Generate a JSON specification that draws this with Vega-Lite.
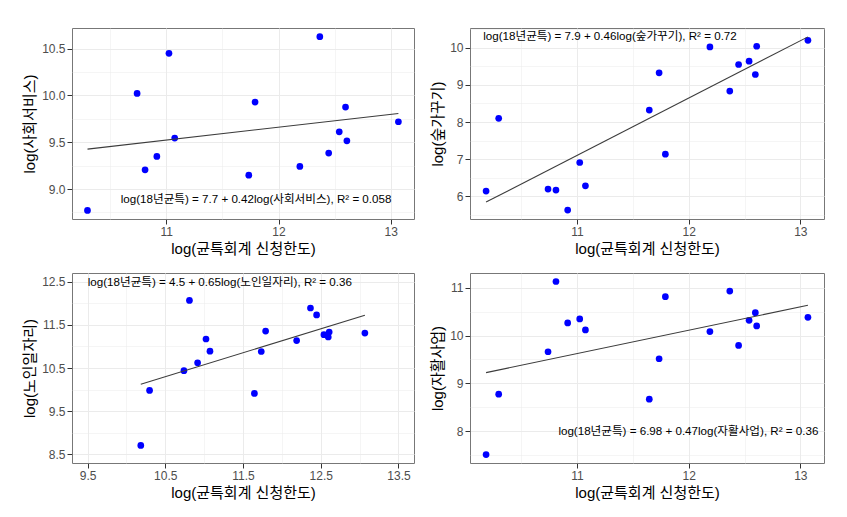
{
  "$schema": "https://vega.github.io/schema/vega-lite/v6.json",
  "background": "white",
  "padding": {"left": 22, "top": 27, "right": 0, "bottom": 0},
  "config": {
    "font": "Liberation Sans, Noto Sans CJK KR",
    "view": {"stroke": "#777777", "strokeWidth": 1},
    "axis": {
      "domain": false,
      "tickColor": "#333333",
      "tickSize": 5,
      "labelColor": "#4D4D4D",
      "labelFontSize": 12,
      "labelPadding": 2,
      "labelOverlap": false,
      "labelFlush": false,
      "titleFontSize": 15,
      "titleFontWeight": "normal",
      "titleColor": "#000000",
      "gridColor": "#EBEBEB"
    },
    "axisX": {"titlePadding": 4},
    "axisY": {"titlePadding": 4}
  },
  "datasets": {
    "pts": [
      {"x": 10.185, "s": null, "f": 6.135, "n": 8.706, "j": 7.507},
      {"x": 10.298, "s": 8.771, "f": 8.099, "n": 9.981, "j": 8.771},
      {"x": 10.740, "s": 10.02, "f": 6.188, "n": 10.439, "j": 9.660},
      {"x": 10.811, "s": 9.205, "f": 6.161, "n": 12.065, "j": 11.132},
      {"x": 10.916, "s": 9.348, "f": 5.623, "n": 10.622, "j": 10.264},
      {"x": 11.024, "s": 10.449, "f": 6.906, "n": 11.172, "j": 10.347},
      {"x": 11.075, "s": 9.544, "f": 6.278, "n": 10.889, "j": 10.118},
      {"x": 11.647, "s": null, "f": 8.323, "n": 9.912, "j": 8.667},
      {"x": 11.735, "s": 9.148, "f": 9.327, "n": 10.882, "j": 9.514},
      {"x": 11.791, "s": 9.928, "f": 7.130, "n": 11.355, "j": 10.813},
      {"x": 12.190, "s": 9.241, "f": 10.027, "n": 11.134, "j": 10.083},
      {"x": 12.368, "s": 10.626, "f": 8.834, "n": 11.889, "j": 10.931},
      {"x": 12.447, "s": 9.384, "f": 9.552, "n": 11.729, "j": 9.792},
      {"x": 12.541, "s": 9.611, "f": 9.641, "n": 11.271, "j": 10.319},
      {"x": 12.597, "s": 9.875, "f": 9.283, "n": 11.218, "j": 10.479},
      {"x": 12.609, "s": 9.515, "f": 10.045, "n": 11.332, "j": 10.201},
      {"x": 13.068, "s": 9.718, "f": 10.206, "n": 11.309, "j": 10.382}
    ]
  },
  "concat": [
    {
      "width": 342, "height": 191,
      "data": {"name": "pts"},
      "encoding": {
        "x": {"field": "x", "type": "quantitative", "title": "log(균특회계 신청한도)",
          "scale": {"domain": [10.16, 13.207], "nice": false, "zero": false},
          "axis": {"values": [10.5, 11, 11.5, 12, 12.5, 13], "format": ".0f",
            "labelExpr": "datum.value % 1 == 0 ? datum.label : ''",
            "labelFontSize": {"condition": {"test": "datum.value % 1 == 0", "value": 12}, "value": 0},
            "tickOpacity": {"condition": {"test": "datum.value % 1 == 0", "value": 1}, "value": 0},
            "gridWidth": {"condition": {"test": "datum.value % 1 == 0", "value": 1}, "value": 0.5}}},
        "y": {"field": "s", "type": "quantitative", "title": "log(사회서비스)",
          "scale": {"domain": [8.68, 10.719], "nice": false, "zero": false},
          "axis": {"values": [8.75, 9, 9.25, 9.5, 9.75, 10, 10.25, 10.5], "format": ".1f",
            "labelExpr": "datum.value % 0.5 == 0 ? datum.label : ''",
            "labelFontSize": {"condition": {"test": "datum.value % 0.5 == 0", "value": 12}, "value": 0},
            "tickOpacity": {"condition": {"test": "datum.value % 0.5 == 0", "value": 1}, "value": 0},
            "gridWidth": {"condition": {"test": "datum.value % 0.5 == 0", "value": 1}, "value": 0.5}}}
      },
      "layer": [
        {"transform": [{"filter": "isValid(datum.s)"}],
         "mark": {"type": "circle", "size": 45, "color": "#0000FF", "opacity": 1}},
        {"transform": [{"filter": "isValid(datum.s)"}, {"regression": "s", "on": "x"}],
         "mark": {"type": "line", "color": "#3C3C3C", "strokeWidth": 1.1}},
        {"data": {"values": [{"x": 11.80, "s": 8.885, "label": "log(18년균특) = 7.7 + 0.42log(사회서비스), R² = 0.058"}]},
         "mark": {"type": "text", "fontSize": 11.6, "color": "#000000", "align": "center", "baseline": "middle"},
         "encoding": {"text": {"field": "label"}}}
      ]
    },
    {
      "width": 354, "height": 191,
      "data": {"name": "pts"},
      "encoding": {
        "x": {"field": "x", "type": "quantitative", "title": "log(균특회계 신청한도)",
          "scale": {"domain": [10.041, 13.212], "nice": false, "zero": false},
          "axis": {"values": [10.5, 11, 11.5, 12, 12.5, 13], "format": ".0f",
            "labelExpr": "datum.value % 1 == 0 ? datum.label : ''",
            "labelFontSize": {"condition": {"test": "datum.value % 1 == 0", "value": 12}, "value": 0},
            "tickOpacity": {"condition": {"test": "datum.value % 1 == 0", "value": 1}, "value": 0},
            "gridWidth": {"condition": {"test": "datum.value % 1 == 0", "value": 1}, "value": 0.5}}},
        "y": {"field": "f", "type": "quantitative", "title": "log(숲가꾸기)",
          "scale": {"domain": [5.381, 10.538], "nice": false, "zero": false},
          "axis": {"values": [5.5, 6, 6.5, 7, 7.5, 8, 8.5, 9, 9.5, 10, 10.5], "format": ".0f",
            "labelExpr": "datum.value % 1 == 0 ? datum.label : ''",
            "labelFontSize": {"condition": {"test": "datum.value % 1 == 0", "value": 12}, "value": 0},
            "tickOpacity": {"condition": {"test": "datum.value % 1 == 0", "value": 1}, "value": 0},
            "gridWidth": {"condition": {"test": "datum.value % 1 == 0", "value": 1}, "value": 0.5}}}
      },
      "layer": [
        {"mark": {"type": "circle", "size": 45, "color": "#0000FF", "opacity": 1}},
        {"transform": [{"regression": "f", "on": "x"}],
         "mark": {"type": "line", "color": "#3C3C3C", "strokeWidth": 1.1}},
        {"data": {"values": [{"x": 11.295, "f": 10.296, "label": "log(18년균특) = 7.9 + 0.46log(숲가꾸기), R² = 0.72"}]},
         "mark": {"type": "text", "fontSize": 11.6, "color": "#000000", "align": "center", "baseline": "middle"},
         "encoding": {"text": {"field": "label"}}}
      ]
    },
    {
      "width": 342, "height": 190,
      "data": {"name": "pts"},
      "encoding": {
        "x": {"field": "x", "type": "quantitative", "title": "log(균특회계 신청한도)",
          "scale": {"domain": [9.3, 13.7], "nice": false, "zero": false},
          "axis": {"values": [9.5, 10, 10.5, 11, 11.5, 12, 12.5, 13, 13.5], "format": ".1f",
            "labelExpr": "datum.value % 1 == 0.5 ? datum.label : ''",
            "labelFontSize": {"condition": {"test": "datum.value % 1 == 0.5", "value": 12}, "value": 0},
            "tickOpacity": {"condition": {"test": "datum.value % 1 == 0.5", "value": 1}, "value": 0},
            "gridWidth": {"condition": {"test": "datum.value % 1 == 0.5", "value": 1}, "value": 0.5}}},
        "y": {"field": "n", "type": "quantitative", "title": "log(노인일자리)",
          "scale": {"domain": [8.3, 12.7], "nice": false, "zero": false},
          "axis": {"values": [8.5, 9, 9.5, 10, 10.5, 11, 11.5, 12, 12.5], "format": ".1f",
            "labelExpr": "datum.value % 1 == 0.5 ? datum.label : ''",
            "labelFontSize": {"condition": {"test": "datum.value % 1 == 0.5", "value": 12}, "value": 0},
            "tickOpacity": {"condition": {"test": "datum.value % 1 == 0.5", "value": 1}, "value": 0},
            "gridWidth": {"condition": {"test": "datum.value % 1 == 0.5", "value": 1}, "value": 0.5}}}
      },
      "layer": [
        {"mark": {"type": "circle", "size": 45, "color": "#0000FF", "opacity": 1}},
        {"transform": [{"regression": "n", "on": "x"}],
         "mark": {"type": "line", "color": "#3C3C3C", "strokeWidth": 1.1}},
        {"data": {"values": [{"x": 11.202, "n": 12.47, "label": "log(18년균특) = 4.5 + 0.65log(노인일자리), R² = 0.36"}]},
         "mark": {"type": "text", "fontSize": 11.6, "color": "#000000", "align": "center", "baseline": "middle"},
         "encoding": {"text": {"field": "label"}}}
      ]
    },
    {
      "width": 354, "height": 190,
      "data": {"name": "pts"},
      "encoding": {
        "x": {"field": "x", "type": "quantitative", "title": "log(균특회계 신청한도)",
          "scale": {"domain": [10.041, 13.212], "nice": false, "zero": false},
          "axis": {"values": [10.5, 11, 11.5, 12, 12.5, 13], "format": ".0f",
            "labelExpr": "datum.value % 1 == 0 ? datum.label : ''",
            "labelFontSize": {"condition": {"test": "datum.value % 1 == 0", "value": 12}, "value": 0},
            "tickOpacity": {"condition": {"test": "datum.value % 1 == 0", "value": 1}, "value": 0},
            "gridWidth": {"condition": {"test": "datum.value % 1 == 0", "value": 1}, "value": 0.5}}},
        "y": {"field": "j", "type": "quantitative", "title": "log(자활사업)",
          "scale": {"domain": [7.33, 11.31], "nice": false, "zero": false},
          "axis": {"values": [7.5, 8, 8.5, 9, 9.5, 10, 10.5, 11], "format": ".0f",
            "labelExpr": "datum.value % 1 == 0 ? datum.label : ''",
            "labelFontSize": {"condition": {"test": "datum.value % 1 == 0", "value": 12}, "value": 0},
            "tickOpacity": {"condition": {"test": "datum.value % 1 == 0", "value": 1}, "value": 0},
            "gridWidth": {"condition": {"test": "datum.value % 1 == 0", "value": 1}, "value": 0.5}}}
      },
      "layer": [
        {"mark": {"type": "circle", "size": 45, "color": "#0000FF", "opacity": 1}},
        {"transform": [{"regression": "j", "on": "x"}],
         "mark": {"type": "line", "color": "#3C3C3C", "strokeWidth": 1.1}},
        {"data": {"values": [{"x": 11.997, "j": 7.979, "label": "log(18년균특) = 6.98 + 0.47log(자활사업), R² = 0.36"}]},
         "mark": {"type": "text", "fontSize": 11.6, "color": "#000000", "align": "center", "baseline": "middle"},
         "encoding": {"text": {"field": "label"}}}
      ]
    }
  ],
  "columns": 2,
  "align": "each",
  "spacing": {"column": 15, "row": 15}
}
